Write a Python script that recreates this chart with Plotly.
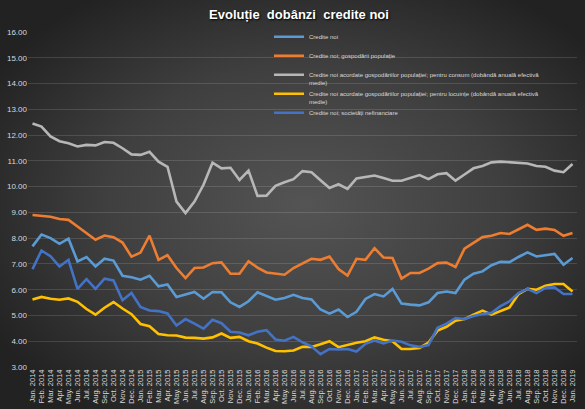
import base64
import plotly.graph_objects as go

month_abbr = ["Jan.", "Feb.", "Mar.", "Apr.", "May.", "Jun.", "Jul.", "Aug.", "Sep.", "Oct.", "Nov.", "Dec."]
years = [2014, 2015, 2016, 2017, 2018]
categories = [f"{m} {y}" for y in years for m in month_abbr] + ["Jan. 2019"]

credite_noi = [7.68, 8.14, 8.00, 7.78, 7.98, 7.10, 7.27, 6.90, 7.20, 7.13,
               6.54, 6.48, 6.39, 6.54, 6.13, 6.20, 5.72, 5.81, 5.91, 5.65,
               5.91, 5.90, 5.51, 5.33, 5.55, 5.90, 5.77, 5.61, 5.68, 5.80,
               5.68, 5.62, 5.23, 5.07, 5.23, 4.94, 5.14, 5.64, 5.83, 5.74,
               6.03, 5.46, 5.42, 5.39, 5.51, 5.87, 5.93, 5.87, 6.39, 6.62,
               6.71, 6.95, 7.08, 7.07, 7.27, 7.45, 7.29, 7.33, 7.39, 6.97,
               7.23]

gospodarii = [8.90, 8.87, 8.83, 8.74, 8.71, 8.45, 8.20, 7.94, 8.10, 8.04,
              7.83, 7.28, 7.44, 8.10, 7.16, 7.34, 6.84, 6.45, 6.84, 6.86,
              7.03, 7.06, 6.62, 6.62, 7.10, 6.86, 6.67, 6.62, 6.58, 6.84,
              7.03, 7.20, 7.16, 7.29, 6.80, 6.55, 7.20, 7.16, 7.61, 7.25,
              7.23, 6.43, 6.65, 6.65, 6.82, 7.03, 7.05, 6.88, 7.59, 7.81,
              8.04, 8.09, 8.20, 8.16, 8.35, 8.52, 8.32, 8.37, 8.32, 8.09,
              8.20]

consum = [12.45, 12.33, 11.95, 11.76, 11.68, 11.56, 11.62, 11.60, 11.73, 11.70,
          11.49, 11.25, 11.23, 11.35, 10.97, 10.77, 9.42, 8.97, 9.42, 10.07,
          10.93, 10.71, 10.73, 10.26, 10.62, 9.64, 9.65, 10.03, 10.17, 10.29,
          10.60, 10.56, 10.25, 9.95, 10.09, 9.91, 10.32, 10.38, 10.43, 10.33,
          10.23, 10.23, 10.35, 10.45, 10.29, 10.48, 10.52, 10.23, 10.47, 10.71,
          10.80, 10.94, 10.97, 10.95, 10.93, 10.90, 10.80, 10.77, 10.62, 10.56,
          10.88]

locuinte = [5.62, 5.72, 5.65, 5.61, 5.66, 5.53, 5.25, 5.03, 5.30, 5.52,
            5.27, 5.05, 4.67, 4.58, 4.28, 4.23, 4.22, 4.14, 4.13, 4.10,
            4.15, 4.30, 4.13, 4.17, 4.00, 3.91, 3.75, 3.62, 3.61, 3.64,
            3.78, 3.78, 3.88, 4.00, 3.77, 3.87, 3.94, 4.00, 4.15, 4.06,
            4.00, 3.70, 3.70, 3.74, 3.95, 4.41, 4.56, 4.80, 4.86, 5.03,
            5.19, 5.03, 5.16, 5.31, 5.83, 6.03, 6.00, 6.15, 6.22, 6.22,
            5.93]

societati = [6.80, 7.52, 7.30, 6.90, 7.16, 6.03, 6.41, 6.03, 6.43, 6.36,
             5.59, 5.87, 5.33, 5.19, 5.17, 5.08, 4.61, 4.86, 4.68, 4.49,
             4.83, 4.70, 4.37, 4.34, 4.23, 4.37, 4.43, 4.07, 4.02, 4.17,
             3.96, 3.80, 3.50, 3.70, 3.68, 3.70, 3.60, 3.90, 4.03, 3.92,
             4.03, 3.98, 3.84, 3.78, 3.85, 4.52, 4.68, 4.90, 4.86, 4.98,
             5.06, 5.10, 5.36, 5.55, 5.87, 6.03, 5.87, 6.07, 6.09, 5.83,
             5.83]

series_names = [
    "Credite noi",
    "Credite noi; gospodării populație",
    "Credite noi acordate gospodăriilor populației; pentru consum (dobândă anuală efectivă<br>medie)",
    "Credite noi acordate gospodăriilor populației; pentru locuințe (dobândă anuală efectivă<br>medie)",
    "Credite noi; societăți nefinanciare",
]
series_values = [credite_noi, gospodarii, consum, locuinte, societati]
series_colors = ["#5B9BD5", "#ED7D31", "#B7B7B7", "#FFC000", "#4472C4"]

y_ticks = [3, 4, 5, 6, 7, 8, 9, 10, 11, 12, 13, 14, 15, 16]

W, H = 585, 409
ML, MR, MT, MB = 28, 8, 32, 42
PW, PH = W - ML - MR, H - MT - MB

fig = go.Figure()
for name, vals, col in zip(series_names, series_values, series_colors):
    label = name if "<br>" in name else name + "<br>\u00a0"
    fig.add_trace(go.Scatter(
        x=categories, y=vals, mode="lines", name=label,
        line=dict(color=col, width=2.6),
    ))

svg = (f'<svg xmlns="http://www.w3.org/2000/svg" width="{W}" height="{H}">'
       '<defs><radialGradient id="g" cx="52%" cy="50%" r="62%">'
       '<stop offset="0" stop-color="#545454"/>'
       '<stop offset="0.55" stop-color="#3f3f3f"/>'
       '<stop offset="1" stop-color="#222222"/>'
       '</radialGradient></defs>'
       f'<rect width="{W}" height="{H}" fill="url(#g)"/></svg>')
bg_src = "data:image/svg+xml;base64," + base64.b64encode(svg.encode()).decode()

fig.update_layout(
    width=W, height=H,
    margin=dict(l=ML, r=MR, t=MT, b=MB, pad=0, autoexpand=False),
    paper_bgcolor="#353535",
    plot_bgcolor="rgba(0,0,0,0)",
    images=[dict(source=bg_src, xref="paper", yref="paper",
                 x=-ML / PW, y=1 + MT / PH, sizex=W / PW, sizey=H / PH,
                 xanchor="left", yanchor="top", sizing="stretch", layer="below")],
    title=dict(text="<b>Evoluție  dobânzi  credite noi</b>",
               x=299 / W, xanchor="center", y=1 - 14 / H, yanchor="middle",
               font=dict(family="Liberation Sans", size=13, color="#ffffff",
                         shadow="1px 1px 2px #000000")),
    font=dict(family="Liberation Sans", color="#d9d9d9"),
    showlegend=True,
    legend=dict(x=(269 - ML) / PW, xanchor="left", y=1 + (MT - 26.3) / PH, yanchor="top",
                bgcolor="rgba(0,0,0,0)", borderwidth=0, valign="top",
                font=dict(family="Liberation Sans", size=6, color="#d9d9d9")),
    xaxis=dict(type="category", range=[-0.5, 60.5], tickangle=-90,
               tickmode="array", tickvals=categories, ticktext=categories,
               tickfont=dict(size=7.5, color="#d9d9d9"), showgrid=False,
               showline=False, zeroline=False, ticks="", fixedrange=True,
               automargin=False),
    yaxis=dict(range=[3, 16], tickvals=y_ticks, tickformat=".2f",
               tickfont=dict(size=8, color="#d9d9d9"),
               showgrid=True, gridcolor="rgba(255,255,255,0.13)", gridwidth=1,
               zeroline=False, showline=False, ticks="", fixedrange=True,
               automargin=False),
)

fig.write_html(
    "out.html",
    config={"displayModeBar": False},
    post_script="document.body.style.margin='0';document.body.style.padding='0';"
                "document.body.style.background='#222222';",
)
